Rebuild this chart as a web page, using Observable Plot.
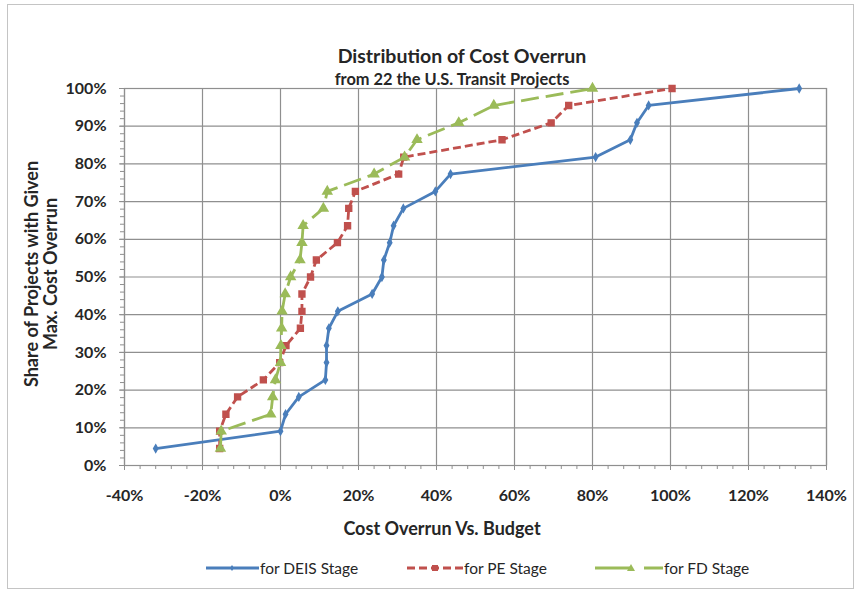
<!DOCTYPE html>
<html><head><meta charset="utf-8">
<script src="https://cdn.jsdelivr.net/npm/d3@7"></script>
<script src="https://cdn.jsdelivr.net/npm/@observablehq/plot@0.6"></script>
<style>
body{margin:0;background:#fff;font-family:Lato,"Liberation Sans",sans-serif;}
#wrap{position:relative;width:863px;height:594px;overflow:hidden;background:#fff}
#frame{position:absolute;left:7px;top:4px;width:847px;height:585px;border:1px solid #c4c4c4;box-sizing:border-box}
#chart{position:absolute;left:0;top:0}
.t{position:absolute;transform:translate(-50%,-50%);white-space:nowrap;font-weight:bold;color:#262626;line-height:1}
.leg{position:absolute;top:558px;height:20px;display:flex;align-items:center;font-size:15.5px;color:#262626}
</style></head>
<body>
<div id="wrap">
  <div id="frame"></div>
  <div id="chart"></div>
  <div class="t" style="left:462px;top:56px;font-size:19.5px">Distribution of Cost Overrun</div>
  <div class="t" style="left:452px;top:79px;font-size:16.4px">from 22 the U.S. Transit Projects</div>
  <div class="t" style="left:442px;top:528px;font-size:18px">Cost Overrun Vs. Budget</div>
  <div class="t" style="left:31px;top:274px;font-size:18px;transform:translate(-50%,-50%) rotate(-90deg)">Share of Projects with Given</div>
  <div class="t" style="left:50px;top:274px;font-size:18px;transform:translate(-50%,-50%) rotate(-90deg)">Max. Cost Overrun</div>
  <div id="legend"></div>
</div>
<script>
// Cumulative share of projects (y values)
const shares = [0.045,0.091,0.136,0.182,0.227,0.273,0.318,0.364,0.409,0.455,0.5,0.545,0.591,0.636,0.682,0.727,0.773,0.818,0.864,0.909,0.955,1.0];
// Cost overrun values per stage (x values)
const deis = [-0.32,0,0.013,0.047,0.115,0.118,0.118,0.124,0.147,0.235,0.26,0.265,0.28,0.29,0.315,0.397,0.436,0.808,0.897,0.914,0.944,1.33];
const pe   = [-0.156,-0.156,-0.14,-0.11,-0.044,-0.002,0.014,0.051,0.055,0.055,0.077,0.092,0.146,0.172,0.175,0.192,0.303,0.316,0.568,0.694,0.739,1.004];
const fd   = [-0.154,-0.152,-0.025,-0.02,-0.013,0,0.001,0.003,0.004,0.012,0.026,0.05,0.055,0.058,0.11,0.12,0.24,0.318,0.35,0.457,0.547,0.80];
const seriesNames = ["for DEIS Stage","for PE Stage","for FD Stage"];
const xTicks = [-0.4,-0.2,0,0.2,0.4,0.6,0.8,1.0,1.2,1.4];
const yTicks = [0,0.1,0.2,0.3,0.4,0.5,0.6,0.7,0.8,0.9,1.0];

const styles = [
  {color:"#4a7ebb", dash:null, symbol:"diamond", r:2.2, legLeft:206, legW:53, legDash:null, legMark:26},
  {color:"#c0504d", dash:"8,4", symbol:"square", r:3.3, legLeft:407, legW:56, legDash:"8,4", legMark:28},
  {color:"#9bbb59", dash:"18,7", symbol:"triangle", r:3.3, legLeft:595, legW:68, legDash:"36,13", legMark:36}
];
const seriesData = [deis, pe, fd].map((xs, k) => xs.map((x, i) => ({series: seriesNames[k], x, y: shares[i]})));

const xMinor = d3.range(-40, 141, 4).map(v => v / 100);
const yMinor = d3.range(0, 101, 2).map(v => v / 100);
const pct = d => Math.round(d * 100) + "%";

const marks = [
  Plot.gridX(xTicks, {stroke:"#8f8f8f", strokeOpacity:1, strokeWidth:1.2}),
  Plot.gridY(yTicks, {stroke:"#8f8f8f", strokeOpacity:1, strokeWidth:1.2}),
  Plot.frame({stroke:"#8f8f8f", strokeWidth:1.2}),
  Plot.axisX(xMinor, {tickSize:4, tickFormat:() => "", stroke:"#8f8f8f", label:null}),
  Plot.axisY(yMinor, {tickSize:4, tickFormat:() => "", stroke:"#8f8f8f", label:null}),
  Plot.axisX(xTicks, {tickSize:5, tickFormat:pct, tickPadding:19, stroke:"#8f8f8f", label:null, fontSize:16}),
  Plot.axisY(yTicks, {tickSize:5, tickFormat:pct, tickPadding:13, stroke:"#8f8f8f", label:null, fontSize:16})
];
seriesData.forEach((d, k) => {
  const s = styles[k];
  marks.push(Plot.line(d, {x:"x", y:"y", stroke:s.color, strokeWidth:2.8, strokeDasharray:s.dash, strokeLinecap:"butt", strokeLinejoin:"round"}));
  marks.push(Plot.dot(d, {x:"x", y:"y", fill:s.color, stroke:s.color, r:s.r, symbol:s.symbol}));
});

const chart = Plot.plot({
  width:863, height:594,
  marginLeft:124, marginRight:37, marginTop:88, marginBottom:129,
  x:{domain:[-0.4,1.4]},
  y:{domain:[0,1]},
  style:{fontFamily:"Lato, 'Liberation Sans', sans-serif", fontWeight:"bold", color:"#262626", background:"transparent"},
  marks
});
document.getElementById("chart").appendChild(chart);

// Legend
const legend = document.getElementById("legend");
seriesNames.forEach((name, k) => {
  const s = styles[k];
  const m = s.legMark;
  const mk = s.symbol === "square" ? `<rect x="${m-3}" y="7" width="6" height="6" fill="${s.color}"/>`
    : s.symbol === "triangle" ? `<path d="M${m},6 L${m+4},13 L${m-4},13 Z" fill="${s.color}"/>`
    : `<path d="M${m},7 L${m+2},10 L${m},13 L${m-2},10 Z" fill="${s.color}"/>`;
  const div = document.createElement("div");
  div.className = "leg";
  div.style.left = s.legLeft + "px";
  div.innerHTML = `<svg width="${s.legW}" height="20" style="margin-right:1px"><line x1="0" y1="10" x2="${s.legW}" y2="10" stroke="${s.color}" stroke-width="2.8" ${s.legDash ? `stroke-dasharray="${s.legDash}"` : ""}/>${mk}</svg><span>${name}</span>`;
  legend.appendChild(div);
});
</script>
</body></html>
